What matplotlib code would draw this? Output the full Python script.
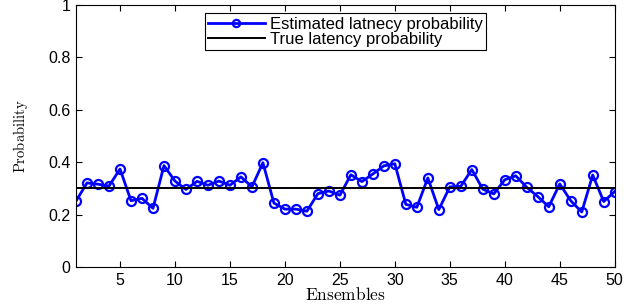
import matplotlib
matplotlib.use("Agg")
import matplotlib.pyplot as plt

plt.rcParams['mathtext.fontset'] = 'cm'
plt.rcParams['font.family'] = ['Liberation Sans', 'DejaVu Sans']

ensembles = list(range(1, 51))
estimated = [0.252, 0.321, 0.316, 0.309, 0.374, 0.253, 0.262, 0.224, 0.387, 0.328,
             0.296, 0.327, 0.312, 0.328, 0.312, 0.344, 0.306, 0.398, 0.244, 0.221,
             0.221, 0.213, 0.280, 0.290, 0.274, 0.352, 0.326, 0.355, 0.386, 0.394,
             0.239, 0.228, 0.340, 0.219, 0.306, 0.308, 0.372, 0.297, 0.279, 0.333,
             0.348, 0.304, 0.269, 0.230, 0.317, 0.253, 0.210, 0.351, 0.250, 0.288]
true_prob = 0.3

fig = plt.figure(figsize=(6.39, 3.08), dpi=100)
ax = fig.add_axes([0.119, 0.133, 0.843, 0.851])

ax.plot(ensembles, estimated, '-o', color='#0000ff', lw=2, ms=6.5,
        mfc='none', mew=1.6, label='Estimated latnecy probability')
ax.axhline(true_prob, color='black', lw=1.4, label='True latency probability')

ax.set_xlim(1, 50)
ax.set_ylim(0, 1)
ax.set_xticks(range(5, 51, 5))
ax.set_yticks([0, 0.2, 0.4, 0.6, 0.8, 1])
ax.set_yticklabels(['0', '0.2', '0.4', '0.6', '0.8', '1'])
ax.tick_params(direction='in', top=True, right=True, labelsize=11.5, length=4, pad=4)

ax.set_xlabel(r'$\mathrm{Ensembles}$', fontsize=12.5, labelpad=-1)
ax.set_ylabel(r'$\mathrm{Probability}$', fontsize=10.5)
ax.yaxis.set_label_coords(-0.085, 0.5)

leg = ax.legend(loc='upper center', fontsize=12, fancybox=False, framealpha=1,
                edgecolor='black', borderpad=0.2, handlelength=3.4,
                handletextpad=0.3, labelspacing=0.0, borderaxespad=0.5,
                markerscale=0.8)
leg.get_frame().set_linewidth(0.8)

fig.savefig('out.png', dpi=100)
